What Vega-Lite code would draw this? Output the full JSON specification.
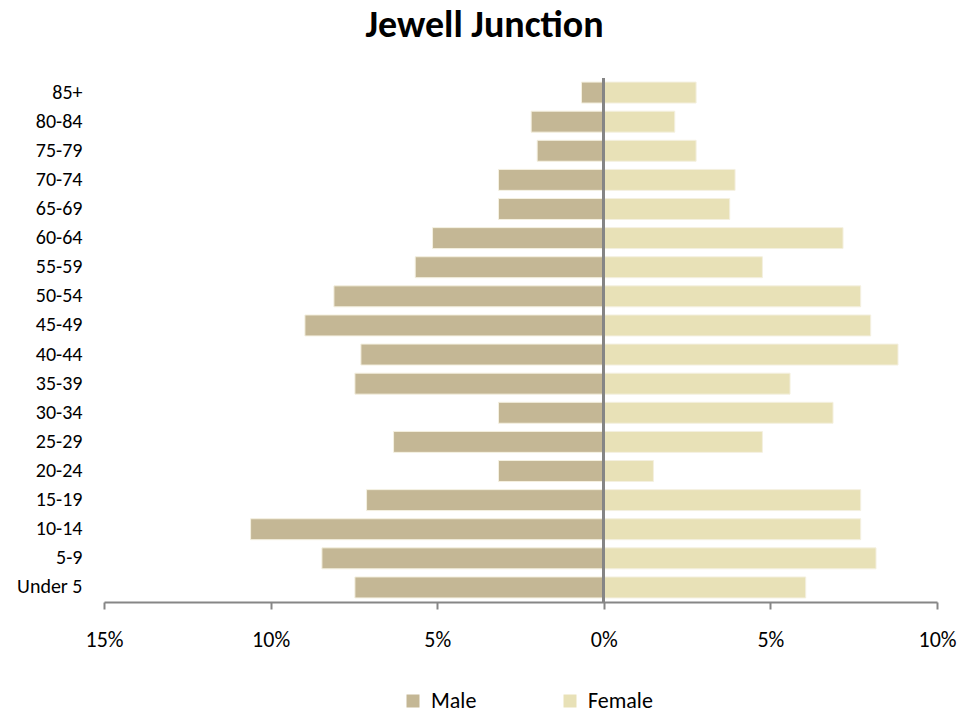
{
  "$schema": "https://vega.github.io/schema/vega-lite/v6.json",
  "width": 833,
  "height": 524,
  "autosize": {"type": "none"},
  "padding": {"left": 104, "top": 78, "right": 42, "bottom": 111},
  "background": "white",
  "config": {
    "font": "Carlito, Lato, sans-serif",
    "view": {"stroke": null}
  },
  "title": {
    "text": "Jewell Junction",
    "fontSize": 38,
    "fontWeight": "bold",
    "font": "Carlito, Lato, sans-serif",
    "color": "#000000",
    "anchor": "middle",
    "dx": -36,
    "offset": 32
  },
  "data": {
    "values": [
      {"age": "85+", "sex": "Male", "value": -0.67},
      {"age": "80-84", "sex": "Male", "value": -2.18},
      {"age": "75-79", "sex": "Male", "value": -2.0},
      {"age": "70-74", "sex": "Male", "value": -3.16},
      {"age": "65-69", "sex": "Male", "value": -3.16},
      {"age": "60-64", "sex": "Male", "value": -5.14},
      {"age": "55-59", "sex": "Male", "value": -5.66},
      {"age": "50-54", "sex": "Male", "value": -8.1},
      {"age": "45-49", "sex": "Male", "value": -8.97},
      {"age": "40-44", "sex": "Male", "value": -7.29},
      {"age": "35-39", "sex": "Male", "value": -7.47},
      {"age": "30-34", "sex": "Male", "value": -3.16},
      {"age": "25-29", "sex": "Male", "value": -6.31},
      {"age": "20-24", "sex": "Male", "value": -3.16},
      {"age": "15-19", "sex": "Male", "value": -7.12},
      {"age": "10-14", "sex": "Male", "value": -10.6},
      {"age": "5-9", "sex": "Male", "value": -8.46},
      {"age": "Under 5", "sex": "Male", "value": -7.47},
      {"age": "85+", "sex": "Female", "value": 2.77},
      {"age": "80-84", "sex": "Female", "value": 2.13},
      {"age": "75-79", "sex": "Female", "value": 2.77},
      {"age": "70-74", "sex": "Female", "value": 3.94},
      {"age": "65-69", "sex": "Female", "value": 3.78},
      {"age": "60-64", "sex": "Female", "value": 7.18},
      {"age": "55-59", "sex": "Female", "value": 4.76},
      {"age": "50-54", "sex": "Female", "value": 7.71},
      {"age": "45-49", "sex": "Female", "value": 8.01},
      {"age": "40-44", "sex": "Female", "value": 8.83},
      {"age": "35-39", "sex": "Female", "value": 5.59},
      {"age": "30-34", "sex": "Female", "value": 6.88},
      {"age": "25-29", "sex": "Female", "value": 4.76},
      {"age": "20-24", "sex": "Female", "value": 1.49},
      {"age": "15-19", "sex": "Female", "value": 7.71},
      {"age": "10-14", "sex": "Female", "value": 7.71},
      {"age": "5-9", "sex": "Female", "value": 8.17},
      {"age": "Under 5", "sex": "Female", "value": 6.06}
    ]
  },
  "layer": [
    {
      "mark": {"type": "bar", "stroke": "#f4f0e0", "strokeWidth": 1},
      "encoding": {
        "y": {
          "field": "age",
          "type": "nominal",
          "sort": ["85+", "80-84", "75-79", "70-74", "65-69", "60-64", "55-59", "50-54", "45-49", "40-44", "35-39", "30-34", "25-29", "20-24", "15-19", "10-14", "5-9", "Under 5"],
          "scale": {"paddingInner": 0.28, "paddingOuter": 0.14},
          "axis": {
            "title": null,
            "domain": false,
            "ticks": false,
            "labelFontSize": 20,
            "labelColor": "#000000",
            "labelPadding": 22
          }
        },
        "x": {
          "field": "value",
          "type": "quantitative",
          "scale": {"domain": [-15, 10], "nice": false},
          "axis": {
            "title": null,
            "values": [-15, -10, -5, 0, 5, 10],
            "labelExpr": "abs(datum.value) + '%'",
            "labelFlush": false,
            "grid": false,
            "domainColor": "#868686",
            "domainWidth": 2,
            "tickColor": "#868686",
            "tickWidth": 2,
            "tickSize": 7,
            "labelFontSize": 22,
            "labelColor": "#000000",
            "labelPadding": 20
          }
        },
        "color": {
          "field": "sex",
          "type": "nominal",
          "scale": {"domain": ["Male", "Female"], "range": ["#c4b795", "#e8e1b7"]},
          "legend": {
            "title": null,
            "orient": "none",
            "direction": "horizontal",
            "legendX": 298,
            "legendY": 612,
            "symbolType": "square",
            "symbolSize": 169,
            "symbolStrokeWidth": 0,
            "labelFontSize": 22,
            "labelColor": "#000000",
            "columnPadding": 82,
            "labelOffset": 7
          }
        }
      }
    },
    {
      "mark": {"type": "rule", "color": "#868686", "strokeWidth": 2},
      "encoding": {
        "x": {"datum": 0, "type": "quantitative"}
      }
    }
  ]
}
